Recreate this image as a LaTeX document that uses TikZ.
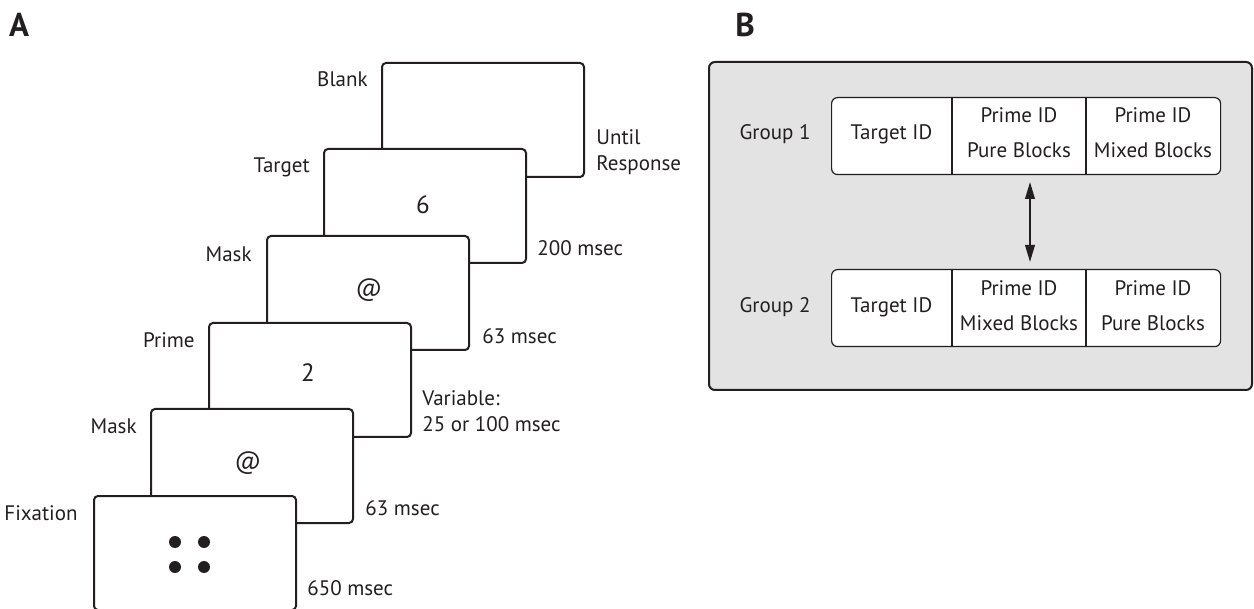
\documentclass[tikz,border=0pt]{standalone}
\usepackage{fontspec}
\setmainfont{PT Sans}
\usetikzlibrary{arrows.meta}
\definecolor{panelgray}{HTML}{E3E3E3}
\definecolor{ink}{HTML}{231F20}
\tikzset{
  screen/.style={draw=ink, line width=1pt, rounded corners=2pt, fill=white,
    minimum width=101pt, minimum height=57pt, anchor=north west, inner sep=0pt},
  content/.style={font=\fontsize{12.5}{14}\selectfont, inner sep=0pt, text=ink},
  lbl/.style={font=\fontsize{10.5}{13}\selectfont, inner sep=0pt, text=ink},
  lleft/.style={lbl, anchor=base east},
  lright/.style={lbl, anchor=base west},
  lright2/.style={lbl, anchor=west, align=left},
  panel/.style={font=\fontsize{16.5}{18}\selectfont\bfseries, inner sep=0pt, text=ink},
  dotmark/.style={fill=ink, draw=none},
  graybox/.style={draw=ink, line width=1pt, rounded corners=3pt, fill=panelgray},
  rowbox/.style={draw=ink, line width=0.6pt, rounded corners=3pt, fill=white},
  divider/.style={draw=ink, line width=0.6pt},
  cell/.style={font=\fontsize{10.5}{17.5}\selectfont, inner sep=0pt, align=center, text=ink},
  dblarrow/.style={draw=ink, line width=1pt, {Triangle[length=8.5pt,width=4.8pt]}-{Triangle[length=8.5pt,width=4.8pt]}}
}
\begin{document}
\begin{tikzpicture}[x=0.5pt,y=-0.5pt]
\useasboundingbox (0,0) rectangle (1254,609);
\fill[white] (0,0) rectangle (1254,609);

% Panel labels
\node[panel] (pA) at (19,25) {A};
\node[panel] (pB) at (745,25) {B};

% Screens, back to front
\node[screen] (blank) at (381,62) {};
\node[screen] (target) at (323,148) {};
\node[screen] (mask1) at (266,235) {};
\node[screen] (prime) at (208,322) {};
\node[screen] (mask2) at (150,408) {};
\node[screen] (fix) at (93,495) {};

% contents
\node[content] (c6) at (423,205) {6};
\node[content] (cat1) at (369,290) {@};
\node[content] (c2) at (308,373) {2};
\node[content] (cat2) at (248,463) {@};
\fill[dotmark] (175,542) circle (6);
\fill[dotmark] (204,542) circle (6);
\fill[dotmark] (175,567) circle (6);
\fill[dotmark] (204,567) circle (6);

% left labels
\node[lleft] (lb) at (368,87) {Blank};
\node[lleft] (lt) at (310,173) {Target};
\node[lleft] (lm1) at (252,262) {Mask};
\node[lleft] (lp) at (195,348) {Prime};
\node[lleft] (lm2) at (137,434) {Mask};
\node[lleft] (lf) at (78,520) {Fixation};

% right labels
\node[lright2] (rb) at (596,152) {Until\\Response};
\node[lright] (rt) at (537,256) {200 msec};
\node[lright] (rm1) at (482,344) {63 msec};
\node[lright2] (rp) at (422,411) {Variable:\\25 or 100 msec};
\node[lright] (rm2) at (365,515) {63 msec};
\node[lright] (rf) at (307,595) {650 msec};

% Panel B
\draw[graybox] (709,62) rectangle (1252,390);
\node[rowbox, anchor=north west, minimum width=194.5pt, minimum height=38.5pt, inner sep=0pt] (row1) at (831,97) {};
\node[rowbox, anchor=north west, minimum width=194.5pt, minimum height=38.5pt, inner sep=0pt] (row2) at (831,269) {};
\draw[divider] (row1.north -| 952,0) -- (row1.south -| 952,0);
\draw[divider] (row1.north -| 1086,0) -- (row1.south -| 1086,0);
\draw[divider] (row2.north -| 952,0) -- (row2.south -| 952,0);
\draw[divider] (row2.north -| 1086,0) -- (row2.south -| 1086,0);

\node[lbl] (g1) at (775,134) {Group 1};
\node[lbl] (g2) at (775,307) {Group 2};

\node[cell] (t1) at (891.5,134) {Target ID};
\node[cell] (p11) at (1019,133) {Prime ID\\Pure Blocks};
\node[cell] (p12) at (1153,133) {Prime ID\\Mixed Blocks};
\node[cell] (t2) at (891.5,307) {Target ID};
\node[cell] (p21) at (1019,306) {Prime ID\\Mixed Blocks};
\node[cell] (p22) at (1153,306) {Prime ID\\Pure Blocks};

\coordinate (aTop) at (1030,182);
\coordinate (aBot) at (1030,262);
\draw[dblarrow] (aTop) -- (aBot);
\end{tikzpicture}
\end{document}
